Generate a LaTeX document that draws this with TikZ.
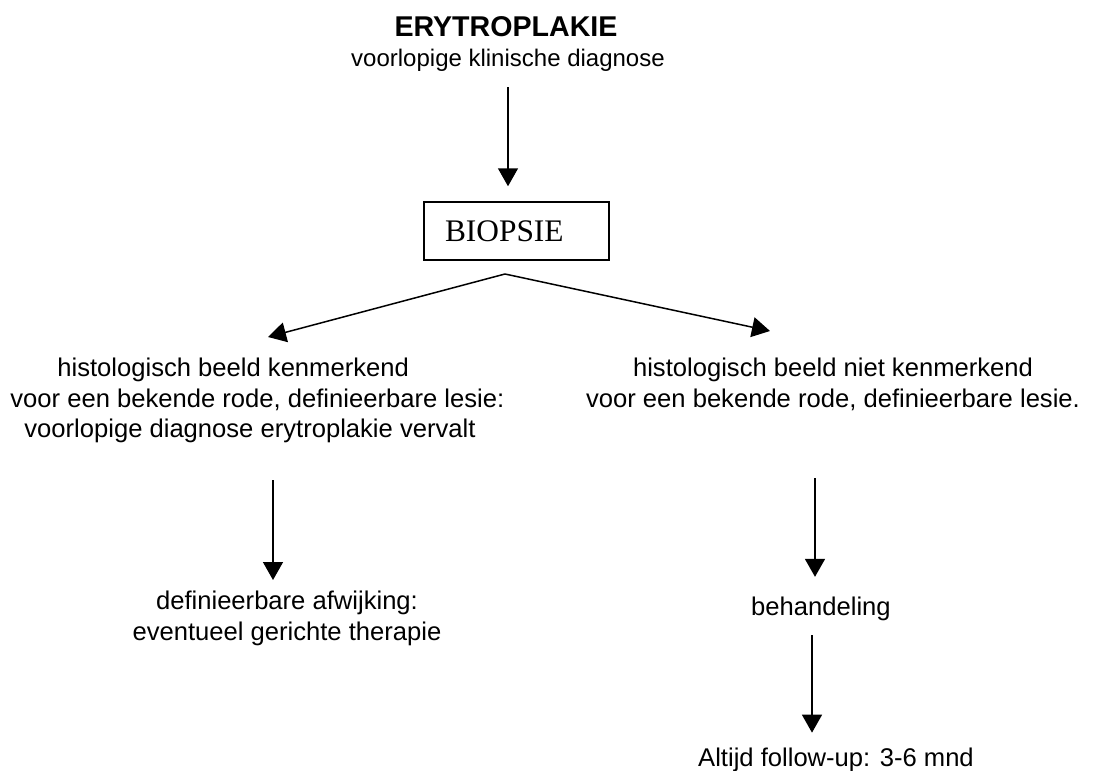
\documentclass[tikz,border=0pt]{standalone}
\usepackage{fontspec}
\setmainfont{Liberation Sans}
\newfontfamily\timesfont{Liberation Serif}
\usetikzlibrary{arrows.meta, positioning}

\begin{document}
\begin{tikzpicture}[x=0.5pt, y=-0.5pt,
        heading/.style={font=\fontsize{14.3}{17}\selectfont\bfseries, inner sep=0pt, anchor=base},
        subtxt/.style={font=\fontsize{12}{14}\selectfont, inner sep=0pt, anchor=base},
        txt/.style={font=\fontsize{12.8}{15.25}\selectfont, inner sep=0pt, align=center},
        box/.style={rectangle, draw, line width=0.75pt, font=\timesfont\fontsize{15.7}{18}\selectfont, minimum width=92.5pt, minimum height=29pt, text width=71.5pt, inner xsep=10.5pt, inner ysep=0pt, align=left},
        arrow/.style={-{Triangle[width=10pt,length=9pt]}, line width=0.75pt}
        ]
        \useasboundingbox (0,0) rectangle (1100,771);

        % Nodes
        \node (title) [heading] at (506,36) {ERYTROPLAKIE};
        \node (sub) [subtxt] at (508,67) {voorlopige klinische diagnose};
        \node (biopsie) [box] at (516.5,231) {BIOPSIE};
        \coordinate (fork) at (505,274);
        \coordinate (lefttip) at (268,337);
        \coordinate (righttip) at (770,331);
        \node (leftbranch) [txt, align=left, anchor=north west] at (10,358) {\hspace*{23.5pt}histologisch beeld kenmerkend\\voor een bekende rode, definieerbare lesie:\\\hspace*{7pt}voorlopige diagnose erytroplakie vervalt};
        \node (rightbranch) [txt, anchor=north] at (833,358) {histologisch beeld niet kenmerkend\\voor een bekende rode, definieerbare lesie.};
        \node (leftres) [txt, anchor=north] at (287,591) {definieerbare afwijking:\\eventueel gerichte therapie};
        \node (treat) [txt, anchor=base] at (821,615) {behandeling};
        \node (follow) [txt, anchor=base] at (836,766) {Altijd follow-up: 3-6 mnd};

        % Arrows
        \draw [arrow, shorten <=7.5pt, shorten >=7.5pt] (sub.south) -- (sub.south |- biopsie.north);
        \draw [arrow] (fork) -- (lefttip);
        \draw [arrow] (fork) -- (righttip);
        \draw [arrow, shorten >=5.5pt] ([xshift=131.5pt, yshift=-61pt]leftbranch.north west) -- ([xshift=-7pt]leftres.north);
        \draw [arrow, shorten >=9.6pt] ([xshift=-9pt, yshift=-60pt]rightbranch.north) -- ([xshift=-9pt]rightbranch.north |- treat.north);
        \draw [arrow, shorten <=7.3pt, shorten >=7.2pt] ([xshift=-4.5pt]treat.south) -- ([xshift=-4.5pt]treat.south |- follow.north);

    \end{tikzpicture}
\end{document}
